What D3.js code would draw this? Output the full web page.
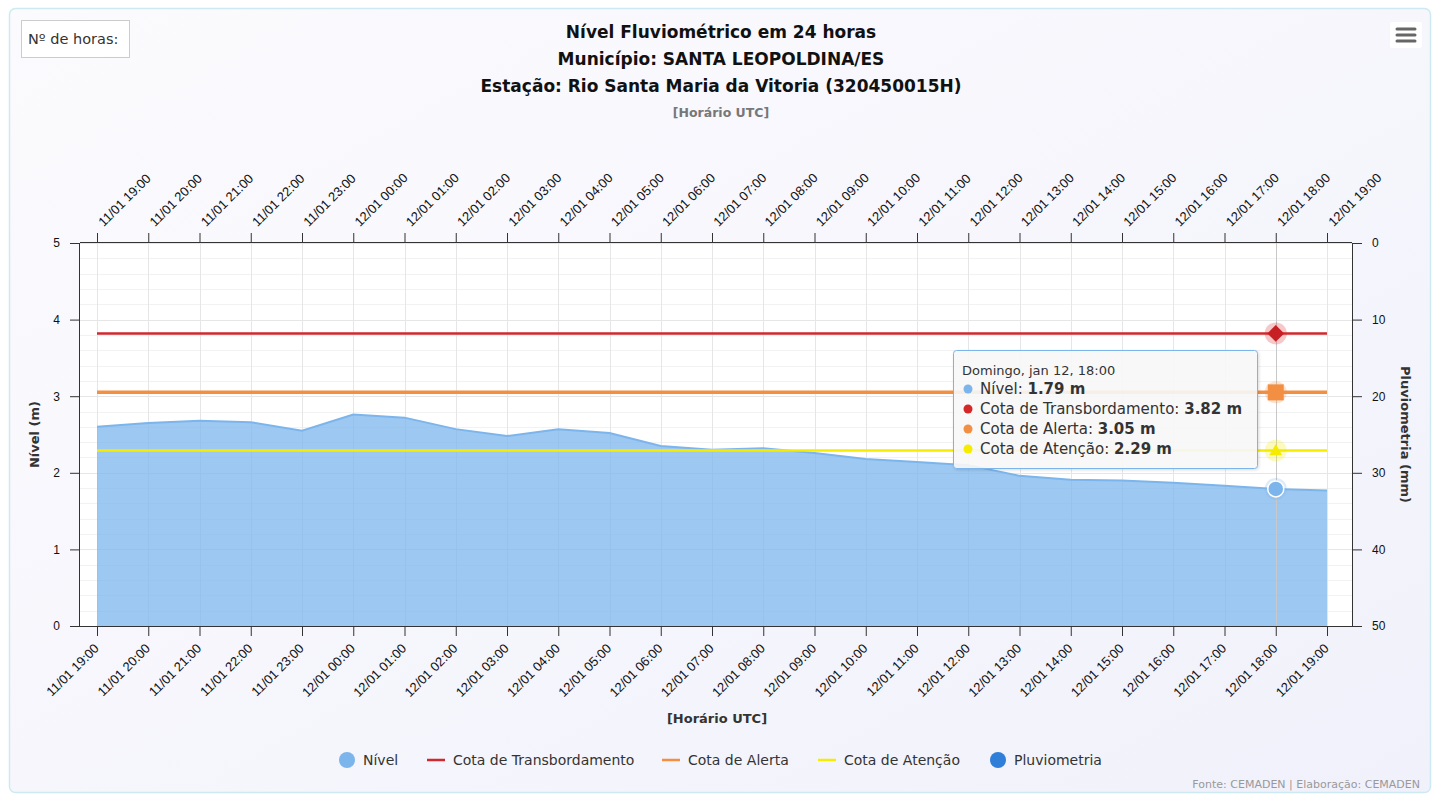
<!DOCTYPE html>
<meta charset="utf-8">
<title>Nível Fluviométrico em 24 horas</title>
<style>
  body { margin: 0; background: #fff; }
  svg { display: block; font-family: "DejaVu Sans", sans-serif; }
  .grid line { stroke: #e6e6e6; stroke-width: 1; }
  .minor line { stroke: #f2f2f2; stroke-width: 1; }
  .axis path, .axis line { stroke: #333; }
  .axis text { fill: #111; font-size: 13px; }
</style>
<body>
<script src="https://cdn.jsdelivr.net/npm/d3@7"></script>
<script>
  // horarios (UTC)
  var horas = ["11/01 19:00", "11/01 20:00", "11/01 21:00", "11/01 22:00", "11/01 23:00",
    "12/01 00:00", "12/01 01:00", "12/01 02:00", "12/01 03:00", "12/01 04:00", "12/01 05:00",
    "12/01 06:00", "12/01 07:00", "12/01 08:00", "12/01 09:00", "12/01 10:00", "12/01 11:00",
    "12/01 12:00", "12/01 13:00", "12/01 14:00", "12/01 15:00", "12/01 16:00", "12/01 17:00",
    "12/01 18:00", "12/01 19:00"];

  // nivel do rio (m)
  var nivel = [2.60, 2.65, 2.68, 2.66, 2.55, 2.76, 2.72, 2.57, 2.48, 2.57, 2.52, 2.35, 2.30,
    2.32, 2.26, 2.18, 2.14, 2.10, 1.96, 1.91, 1.90, 1.87, 1.83, 1.79, 1.77];

  var cotaTransbordamento = 3.82;
  var cotaAlerta = 3.05;
  var cotaAtencao = 2.29;

  var nivelTicks = [0, 1, 2, 3, 4, 5];
  var pluvioTicks = [0, 10, 20, 30, 40, 50];

  var hoverIndex = 23; // ponto destacado (12/01 18:00)

  var width = 1436, height = 794;
  var plot = { left: 80, right: 1352, top: 243, bottom: 626 };

  var svg = d3.select("body").append("svg")
    .attr("width", width)
    .attr("height", height);

  var defs = svg.append("defs");
  var grad = defs.append("linearGradient").attr("id", "bg")
    .attr("x1", 0).attr("y1", 0).attr("x2", 1).attr("y2", 1);
  grad.append("stop").attr("offset", "0%").attr("stop-color", "#fbfbfe");
  grad.append("stop").attr("offset", "100%").attr("stop-color", "#f1f1fb");
  var shadow = defs.append("filter").attr("id", "shadow")
    .attr("x", "-10%").attr("y", "-10%").attr("width", "130%").attr("height", "130%");
  shadow.append("feDropShadow").attr("dx", 1).attr("dy", 1).attr("stdDeviation", 1.5)
    .attr("flood-color", "#000").attr("flood-opacity", 0.15);

  // container
  svg.append("rect")
    .attr("x", 9.5).attr("y", 8.5).attr("width", 1421).attr("height", 784)
    .attr("rx", 6)
    .attr("fill", "url(#bg)")
    .attr("stroke", "#cdeaf3").attr("stroke-width", 1.5);

  // plot background
  svg.append("rect")
    .attr("x", plot.left).attr("y", plot.top)
    .attr("width", plot.right - plot.left).attr("height", plot.bottom - plot.top)
    .attr("fill", "#fff");

  var x = d3.scalePoint().domain(horas).range([97, 1327]);
  var y = d3.scaleLinear().domain([0, 5]).range([plot.bottom, plot.top]);
  var y2 = d3.scaleLinear().domain([0, 50]).range([plot.top, plot.bottom]);

  // minor grid
  svg.append("g").attr("class", "minor")
    .selectAll("line").data(d3.range(0, 5.01, 0.2).filter(function(d) {
      return Math.abs(d - Math.round(d)) > 0.01;
    }))
    .enter().append("line")
    .attr("x1", plot.left).attr("x2", plot.right)
    .attr("y1", function(d) { return Math.round(y(d)) + 0.5; })
    .attr("y2", function(d) { return Math.round(y(d)) + 0.5; });

  // major grid
  var grid = svg.append("g").attr("class", "grid");
  grid.selectAll("line.h").data(nivelTicks).enter().append("line").attr("class", "h")
    .attr("x1", plot.left).attr("x2", plot.right)
    .attr("y1", function(d) { return Math.round(y(d)) + 0.5; })
    .attr("y2", function(d) { return Math.round(y(d)) + 0.5; });
  grid.selectAll("line.v").data(horas).enter().append("line").attr("class", "v")
    .attr("y1", plot.top).attr("y2", plot.bottom)
    .attr("x1", function(d) { return Math.round(x(d)) + 0.5; })
    .attr("x2", function(d) { return Math.round(x(d)) + 0.5; });

  // area nivel
  var area = d3.area()
    .x(function(d, i) { return x(horas[i]); })
    .y0(y(0))
    .y1(function(d) { return y(d); });
  var line = d3.line()
    .x(function(d, i) { return x(horas[i]); })
    .y(function(d) { return y(d); });

  svg.append("path").datum(nivel)
    .attr("d", area)
    .attr("fill", "#7cb5ec").attr("fill-opacity", 0.75);
  svg.append("path").datum(nivel)
    .attr("d", line)
    .attr("fill", "none").attr("stroke", "#7cb5ec").attr("stroke-width", 2);

  // cotas
  var cotas = [
    { nome: "Cota de Transbordamento", valor: cotaTransbordamento, cor: "#d0282e", w: 2.5, dot: "#d62728" },
    { nome: "Cota de Alerta", valor: cotaAlerta, cor: "#f28f43", w: 3.5, dot: "#f28f43" },
    { nome: "Cota de Atenção", valor: cotaAtencao, cor: "#f5ec00", w: 2.5, dot: "#f5ec00" }
  ];
  svg.selectAll("line.cota").data(cotas).enter().append("line").attr("class", "cota")
    .attr("x1", x(horas[0])).attr("x2", x(horas[horas.length - 1]))
    .attr("y1", function(d) { return y(d.valor); })
    .attr("y2", function(d) { return y(d.valor); })
    .attr("stroke", function(d) { return d.cor; })
    .attr("stroke-width", function(d) { return d.w; });

  // crosshair
  var hx = x(horas[hoverIndex]);
  svg.append("line")
    .attr("x1", Math.round(hx) + 0.5).attr("x2", Math.round(hx) + 0.5)
    .attr("y1", plot.top).attr("y2", plot.bottom)
    .attr("stroke", "#c8c8c8").attr("stroke-width", 1);

  // axes
  var axisBottom = svg.append("g").attr("class", "axis")
    .attr("transform", "translate(0," + plot.bottom + ")")
    .call(d3.axisBottom(x).tickSize(10).tickPadding(4));
  axisBottom.select(".domain").attr("d", "M" + plot.left + ",0.5H" + plot.right);
  axisBottom.selectAll("text")
    .attr("x", 0).attr("y", 0)
    .attr("text-anchor", "end")
    .attr("dy", "0.35em")
    .attr("transform", "translate(-1,20) rotate(-45)");

  var axisTop = svg.append("g").attr("class", "axis")
    .attr("transform", "translate(0," + plot.top + ")")
    .call(d3.axisTop(x).tickSize(10).tickPadding(4));
  axisTop.select(".domain").attr("d", "M" + plot.left + ",-0.5H" + plot.right);
  axisTop.selectAll("text")
    .attr("x", 0).attr("y", 0)
    .attr("text-anchor", "start")
    .attr("dy", "0.35em")
    .attr("transform", "translate(3,-19) rotate(-45)");

  var axisLeft = svg.append("g").attr("class", "axis")
    .attr("transform", "translate(" + plot.left + ",0)")
    .call(d3.axisLeft(y).tickValues(nivelTicks).tickFormat(d3.format("d")).tickSize(10).tickPadding(10));
  axisLeft.select(".domain").attr("d", "M-0.5," + plot.top + "V" + plot.bottom);
  axisLeft.selectAll("text").style("font-size", "12px");

  var axisRight = svg.append("g").attr("class", "axis")
    .attr("transform", "translate(" + plot.right + ",0)")
    .call(d3.axisRight(y2).tickValues(pluvioTicks).tickSize(10).tickPadding(10));
  axisRight.select(".domain").attr("d", "M0.5," + plot.top + "V" + plot.bottom);
  axisRight.selectAll("text").style("font-size", "12px");

  // axis titles
  svg.append("text")
    .attr("transform", "translate(39," + ((plot.top + plot.bottom) / 2) + ") rotate(-90)")
    .attr("text-anchor", "middle")
    .attr("font-size", 13).attr("font-weight", "bold").attr("fill", "#333")
    .text("Nível (m)");
  svg.append("text")
    .attr("transform", "translate(1401," + ((plot.top + plot.bottom) / 2) + ") rotate(90)")
    .attr("text-anchor", "middle")
    .attr("font-size", 13).attr("font-weight", "bold").attr("fill", "#333")
    .text("Pluviometria (mm)");
  svg.append("text")
    .attr("x", 717).attr("y", 723)
    .attr("text-anchor", "middle")
    .attr("font-size", 13).attr("font-weight", "bold").attr("fill", "#333")
    .text("[Horário UTC]");

  // titles
  var titles = ["Nível Fluviométrico em 24 horas", "Município: SANTA LEOPOLDINA/ES",
    "Estação: Rio Santa Maria da Vitoria (320450015H)"];
  svg.selectAll("text.title").data(titles).enter().append("text").attr("class", "title")
    .attr("x", 721)
    .attr("y", function(d, i) { return 38 + i * 27; })
    .attr("text-anchor", "middle")
    .attr("font-size", 17).attr("font-weight", "bold").attr("fill", "#111")
    .text(function(d) { return d; });
  svg.append("text")
    .attr("x", 721).attr("y", 117)
    .attr("text-anchor", "middle")
    .attr("font-size", 12.5).attr("font-weight", "bold").attr("fill", "#777")
    .text("[Horário UTC]");

  // hover markers
  var mk = svg.append("g");
  var halos = [
    { v: cotaTransbordamento, c: "#d62728" },
    { v: cotaAlerta, c: "#f28f43" },
    { v: cotaAtencao, c: "#f5ec00" },
    { v: nivel[hoverIndex], c: "#7cb5ec" }
  ];
  mk.selectAll("circle.halo").data(halos).enter().append("circle").attr("class", "halo")
    .attr("cx", hx).attr("cy", function(d) { return y(d.v); })
    .attr("r", 11).attr("fill", function(d) { return d.c; }).attr("fill-opacity", 0.25);
  mk.append("path")
    .attr("d", d3.symbol().type(d3.symbolDiamond2).size(180)())
    .attr("transform", "translate(" + hx + "," + y(cotaTransbordamento) + ")")
    .attr("fill", "#c62025");
  mk.append("rect")
    .attr("x", hx - 8).attr("y", y(cotaAlerta) - 8).attr("width", 16).attr("height", 16)
    .attr("fill", "#f28f43");
  mk.append("path")
    .attr("d", d3.symbol().type(d3.symbolTriangle2).size(120)())
    .attr("transform", "translate(" + hx + "," + (y(cotaAtencao) + 1) + ")")
    .attr("fill", "#f5ec00");
  mk.append("circle")
    .attr("cx", hx).attr("cy", y(nivel[hoverIndex])).attr("r", 8)
    .attr("fill", "#7cb5ec").attr("stroke", "#fff").attr("stroke-width", 1.5);

  // tooltip
  var tip = svg.append("g").attr("transform", "translate(953,350)");
  tip.append("rect")
    .attr("x", 0.5).attr("y", 0.5).attr("width", 304).attr("height", 118).attr("rx", 3)
    .attr("fill", "rgba(248,248,248,0.9)").attr("stroke", "#7cb5ec").attr("stroke-width", 1)
    .attr("filter", "url(#shadow)");
  tip.append("text")
    .attr("x", 9).attr("y", 25)
    .attr("font-size", 13).attr("fill", "#333")
    .text("Domingo, jan 12, 18:00");
  var tipRows = [
    { nome: "Nível", valor: nivel[hoverIndex], cor: "#7cb5ec" }
  ].concat(cotas.map(function(c) { return { nome: c.nome, valor: c.valor, cor: c.dot }; }));
  var rows = tip.selectAll("g.row").data(tipRows).enter().append("g").attr("class", "row")
    .attr("transform", function(d, i) { return "translate(9," + (44 + i * 20) + ")"; });
  rows.append("circle").attr("cx", 6).attr("cy", -5).attr("r", 4.5)
    .attr("fill", function(d) { return d.cor; });
  var rt = rows.append("text").attr("x", 18).attr("font-size", 15).attr("fill", "#333");
  rt.append("tspan").text(function(d) { return d.nome + ": "; });
  rt.append("tspan").attr("font-weight", "bold")
    .text(function(d) { return d3.format(".2f")(d.valor) + " m"; });

  // legend
  var legenda = [
    { nome: "Nível", tipo: "circle", cor: "#7cb5ec", x: 339 },
    { nome: "Cota de Transbordamento", tipo: "line", cor: "#d0282e", x: 427 },
    { nome: "Cota de Alerta", tipo: "line", cor: "#f28f43", x: 662 },
    { nome: "Cota de Atenção", tipo: "line", cor: "#f5ec00", x: 818 },
    { nome: "Pluviometria", tipo: "circle", cor: "#2f7ed8", x: 990 }
  ];
  var lg = svg.selectAll("g.leg").data(legenda).enter().append("g").attr("class", "leg")
    .attr("transform", function(d) { return "translate(" + d.x + ",760)"; });
  lg.filter(function(d) { return d.tipo === "circle"; }).append("circle")
    .attr("cx", 8).attr("cy", 0).attr("r", 8)
    .attr("fill", function(d) { return d.cor; });
  lg.filter(function(d) { return d.tipo === "line"; }).append("line")
    .attr("x1", 0).attr("x2", 18).attr("y1", 0).attr("y2", 0)
    .attr("stroke", function(d) { return d.cor; }).attr("stroke-width", 2.5);
  lg.append("text")
    .attr("x", function(d) { return d.tipo === "circle" ? 24 : 26; })
    .attr("y", 5)
    .attr("font-size", 14).attr("fill", "#333")
    .text(function(d) { return d.nome; });

  // credits
  svg.append("text")
    .attr("x", 1420).attr("y", 788)
    .attr("text-anchor", "end")
    .attr("font-size", 11).attr("fill", "#999")
    .text("Fonte: CEMADEN | Elaboração: CEMADEN");

  // range button
  svg.append("rect")
    .attr("x", 21.5).attr("y", 20.5).attr("width", 108).attr("height", 37)
    .attr("fill", "#fff").attr("stroke", "#ccc");
  svg.append("text")
    .attr("x", 28).attr("y", 44)
    .attr("font-size", 14.5).attr("fill", "#333")
    .text("Nº de horas:");

  // menu
  svg.append("rect")
    .attr("x", 1390).attr("y", 22).attr("width", 32).attr("height", 26).attr("rx", 2)
    .attr("fill", "#fff");
  svg.selectAll("line.menu").data([0, 1, 2]).enter().append("line").attr("class", "menu")
    .attr("x1", 1397).attr("x2", 1415)
    .attr("y1", function(d) { return 29 + d * 6; })
    .attr("y2", function(d) { return 29 + d * 6; })
    .attr("stroke", "#666").attr("stroke-width", 3).attr("stroke-linecap", "round");
</script>
</body>
</html>
